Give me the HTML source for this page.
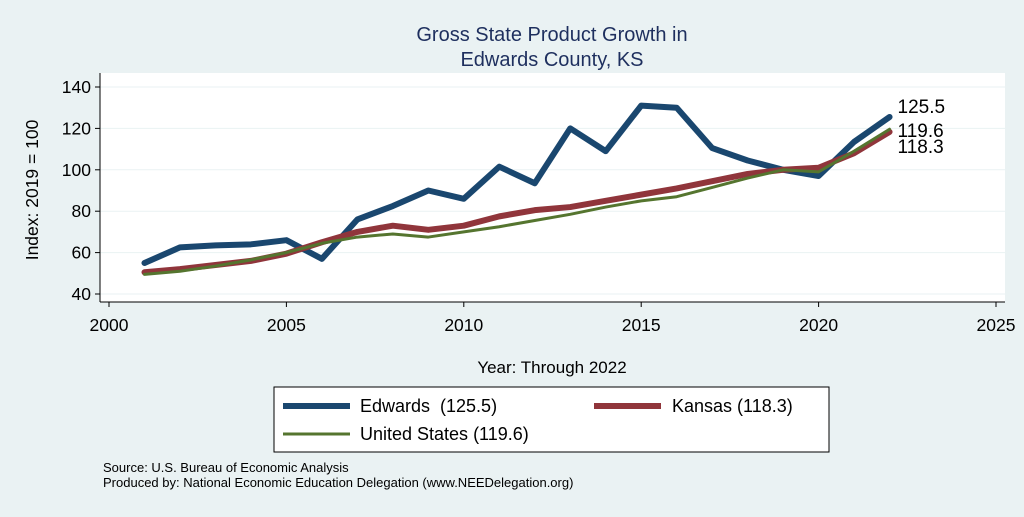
<!DOCTYPE html>
<html><head><meta charset="utf-8"><style>
body{margin:0;width:1024px;height:512px;background:#eaf2f3;font-family:"Liberation Sans",sans-serif;overflow:hidden}
text{white-space:pre}
</style></head><body>
<svg width="1024" height="512" id="svg" xmlns="http://www.w3.org/2000/svg">
<rect x="0" y="0" width="1024" height="512" fill="#eaf2f3"/>
<text x="552" y="41" font-size="20" fill="#1e2f5e" text-anchor="middle">Gross State Product Growth in</text>
<text x="552" y="66" font-size="20" fill="#1e2f5e" text-anchor="middle">Edwards County, KS</text>
<rect x="100" y="73" width="905" height="229" fill="#fff"/>
<g id="grid"></g><g id="axes"></g><g id="series"></g>
<text x="552" y="373" font-size="17" text-anchor="middle">Year: Through 2022</text>
<text transform="translate(38,190) rotate(-90)" font-size="17.5" text-anchor="middle">Index: 2019 = 100</text>
<g>
<rect x="274" y="387" width="555" height="65" fill="#fff" stroke="#000" stroke-width="1"/>
<line x1="283" y1="406" x2="350" y2="406" stroke="#1a476f" stroke-width="6"/>
<text x="360" y="412" font-size="18">Edwards  (125.5)</text>
<line x1="594" y1="406" x2="661" y2="406" stroke="#90353b" stroke-width="6"/>
<text x="672" y="412" font-size="18">Kansas (118.3)</text>
<line x1="283" y1="434" x2="350" y2="434" stroke="#55752f" stroke-width="3"/>
<text x="360" y="440" font-size="18">United States (119.6)</text>
</g>
<text x="103" y="472" font-size="13">Source: U.S. Bureau of Economic Analysis</text>
<text x="103" y="487" font-size="13">Produced by: National Economic Education Delegation (www.NEEDelegation.org)</text>
</svg>
<script>
const years=[2001,2002,2003,2004,2005,2006,2007,2008,2009,2010,2011,2012,2013,2014,2015,2016,2017,2018,2019,2020,2021,2022];
const edwards=[55,62.5,63.5,64,66,57,76,82.5,90,86,101.5,93.5,120,109,131,130,110.5,104.5,100,97,113.5,125.5];
const kansas=[50.5,52,54,56,59.5,65,70,73,71,73,77.5,80.5,82,85,88,91,94.5,98,100,101,108,118.3];
const us=[49.5,51,53.5,56.5,60,64.5,67.5,69,67.5,70,72.5,75.5,78.5,82,85,87,91.5,96,100,99,109,119.6];
const xTicks=[2000,2005,2010,2015,2020,2025];
const yTicks=[40,60,80,100,120,140];
const NS="http://www.w3.org/2000/svg";
const X=v=>109+(v-2000)*(996-109)/25;
const Y=v=>294-(v-40)*(294-87)/100;
function mk(tag,attrs,parent,text){const e=document.createElementNS(NS,tag);for(const k in attrs)e.setAttribute(k,attrs[k]);if(text!=null)e.textContent=text;parent.appendChild(e);return e;}
const grid=document.getElementById('grid'),axes=document.getElementById('axes'),ser=document.getElementById('series');
yTicks.forEach(t=>{
 const g=mk('line',{x1:100,x2:1005,y1:Y(t),y2:Y(t),stroke:'#eaf2f3','stroke-width':1},grid);
 
 
 const tk=mk('line',{x1:95,x2:100,y1:Y(t),y2:Y(t),stroke:'#000'},axes);
 
 
 const l=mk('text',{x:91,y:Y(t)+6,'font-size':17.5,'text-anchor':'end'},axes,t);
 
 
});
xTicks.forEach(t=>{
 const tk=mk('line',{x1:X(t),x2:X(t),y1:302,y2:307,stroke:'#000'},axes);
 
 
 const l=mk('text',{x:X(t),y:331,'font-size':17.5,'text-anchor':'middle'},axes,t);
 
 
});
const ya=mk('line',{x1:100,x2:100,y1:73,y2:302,stroke:'#000'},axes);


const xa=mk('line',{x1:100,x2:1005,y1:302,y2:302,stroke:'#000'},axes);


function line(vals,color,w,name){
 const p=mk('polyline',{points:vals.map((v,i)=>X(years[i])+','+Y(v)).join(' '),fill:'none',stroke:color,'stroke-width':w,'stroke-linejoin':'round','stroke-linecap':'round'},ser);
 
 
}
line(edwards,'#1a476f',6,'line-edwards');
line(kansas,'#90353b',6,'line-kansas');
line(us,'#55752f',3,'line-us');
const last=years.length-1;
[[edwards,-4,'label-edwards'],[us,8,'label-us'],[kansas,21,'label-kansas']].forEach(([a,dy,n])=>{
 const t=mk('text',{x:X(years[last])+8,y:Y(a[last])+dy,'font-size':19},ser,a[last].toFixed(1));
 
 
});
</script>
</body></html>
